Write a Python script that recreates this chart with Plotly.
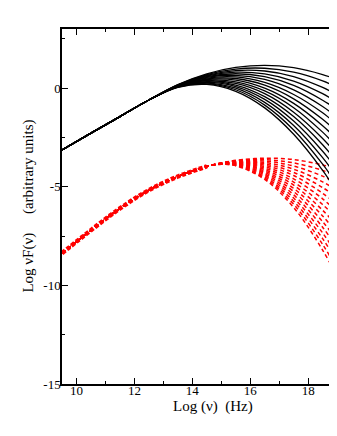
import plotly.graph_objects as go

# black solid curves: common rising part, then each curve bends away
sync_x_low = [9.5, 10.5, 11.5, 12.5]
sync_y_low = [-3.13, -2.28, -1.44, -0.60]
sync_x_high = [13.5, 14.5, 15.5, 16.5, 17.5, 18.5, 19.0]
sync_curves = [
    [0.04, 0.19, -0.16, -1.00, -2.34, -4.17, -5.27],
    [0.05, 0.22, -0.08, -0.86, -2.12, -3.85, -4.89],
    [0.06, 0.26, 0.00, -0.72, -1.89, -3.52, -4.51],
    [0.07, 0.29, 0.08, -0.57, -1.67, -3.20, -4.13],
    [0.08, 0.33, 0.16, -0.43, -1.44, -2.87, -3.75],
    [0.09, 0.37, 0.24, -0.28, -1.22, -2.55, -3.37],
    [0.09, 0.40, 0.32, -0.14, -0.99, -2.23, -2.99],
    [0.10, 0.44, 0.41, 0.00, -0.77, -1.90, -2.61],
    [0.11, 0.47, 0.49, 0.15, -0.54, -1.58, -2.23],
    [0.12, 0.51, 0.57, 0.29, -0.32, -1.25, -1.85],
    [0.13, 0.55, 0.65, 0.44, -0.09, -0.93, -1.47],
    [0.14, 0.58, 0.73, 0.58, 0.14, -0.61, -1.09],
    [0.15, 0.62, 0.81, 0.72, 0.36, -0.28, -0.71],
    [0.16, 0.65, 0.89, 0.87, 0.59, 0.04, -0.33],
    [0.17, 0.69, 0.97, 1.01, 0.81, 0.37, 0.05],
    [0.18, 0.73, 1.05, 1.16, 1.04, 0.69, 0.43],
]

# red dashed curves
ic_x_low = [9.5, 10.5, 11.5, 12.5, 13.5, 14.5]
ic_y_low = [-8.37, -7.20, -6.10, -5.17, -4.48, -3.97]
ic_x_high = [15.0, 15.5, 16.5, 17.5, 18.5, 19.0]
ic_curves = [
    [-3.79, -3.66, -3.55, -3.62, -3.89, -4.09],
    [-3.80, -3.68, -3.62, -3.79, -4.17, -4.45],
    [-3.80, -3.70, -3.69, -3.95, -4.46, -4.82],
    [-3.81, -3.72, -3.77, -4.11, -4.75, -5.18],
    [-3.81, -3.74, -3.84, -4.27, -5.04, -5.55],
    [-3.81, -3.75, -3.91, -4.43, -5.33, -5.91],
    [-3.82, -3.77, -3.98, -4.60, -5.61, -6.28],
    [-3.82, -3.79, -4.05, -4.76, -5.90, -6.64],
    [-3.83, -3.81, -4.13, -4.92, -6.19, -7.00],
    [-3.83, -3.83, -4.20, -5.08, -6.48, -7.37],
    [-3.84, -3.84, -4.27, -5.24, -6.77, -7.73],
    [-3.84, -3.86, -4.34, -5.41, -7.05, -8.10],
    [-3.85, -3.88, -4.41, -5.57, -7.34, -8.46],
    [-3.85, -3.90, -4.49, -5.73, -7.63, -8.83],
    [-3.86, -3.92, -4.56, -5.89, -7.92, -9.19],
    [-3.86, -3.93, -4.63, -6.05, -8.21, -9.56],
]

x_ticks = [10, 12, 14, 16, 18]
y_ticks = [0, -5, -10, -15]
y_ticktext = ['0', '-5', '-10', '-15']

fig = go.Figure()

# thick dashed band where the red curves overlap
fig.add_trace(go.Scatter(
    x=ic_x_low, y=ic_y_low, mode='lines',
    line=dict(color='red', width=4.5, dash='4px,2px', shape='spline'),
    showlegend=False, hoverinfo='skip'
))
for c in ic_curves:
    fig.add_trace(go.Scatter(
        x=ic_x_low + ic_x_high, y=ic_y_low + c, mode='lines',
        line=dict(color='red', width=1.5, dash='4px,3px', shape='spline'),
        showlegend=False
    ))

for c in sync_curves:
    fig.add_trace(go.Scatter(
        x=sync_x_low + sync_x_high, y=sync_y_low + c, mode='lines',
        line=dict(color='black', width=1.3, shape='spline'),
        showlegend=False
    ))

axis_font = dict(family='Liberation Serif', size=13, color='black')

# the page has an 8px body margin and shows only 321px of figure width;
# keep the reference scale, so the x range stops a little short of 19
fig.update_layout(
    width=321, height=410,
    margin=dict(l=54, r=0, t=21, b=34),
    plot_bgcolor='white', paper_bgcolor='white',
    font=axis_font,
    xaxis=dict(
        range=[9.5, 18.72], tickmode='array', tickvals=x_ticks,
        ticks='inside', ticklen=6, tickwidth=1, tickcolor='black',
        minor=dict(tickmode='linear', tick0=9, dtick=1, ticks='inside', ticklen=3, tickcolor='black'),
        showline=True, linecolor='black', linewidth=1.5, mirror='ticks',
        showgrid=False, zeroline=False, tickfont=axis_font, ticklabelstandoff=-6
    ),
    yaxis=dict(
        range=[-15, 3], tickmode='array', tickvals=y_ticks, ticktext=y_ticktext,
        ticks='inside', ticklen=6, tickwidth=1, tickcolor='black',
        minor=dict(tickmode='linear', tick0=-15, dtick=2.5, ticks='inside', ticklen=3, tickcolor='black'),
        showline=True, linecolor='black', linewidth=1.5,
        showgrid=False, zeroline=False, tickfont=axis_font, ticklabelstandoff=-3
    ),
    annotations=[
        dict(text='Log (\u03bd)\u00a0\u00a0(Hz)', xref='paper', yref='paper',
             x=0.567, y=-0.062, showarrow=False, xanchor='center', yanchor='middle',
             font=dict(family='Liberation Serif', size=15, color='black')),
        dict(text='Log \u03bdF(\u03bd)\u00a0\u00a0\u00a0\u00a0\u00a0(arbitrary units)', xref='paper', yref='paper',
             x=-0.127, y=0.5, showarrow=False, textangle=-90, xanchor='center', yanchor='middle',
             font=dict(family='Liberation Serif', size=15, color='black')),
    ],
)

fig.write_html("out.html")
